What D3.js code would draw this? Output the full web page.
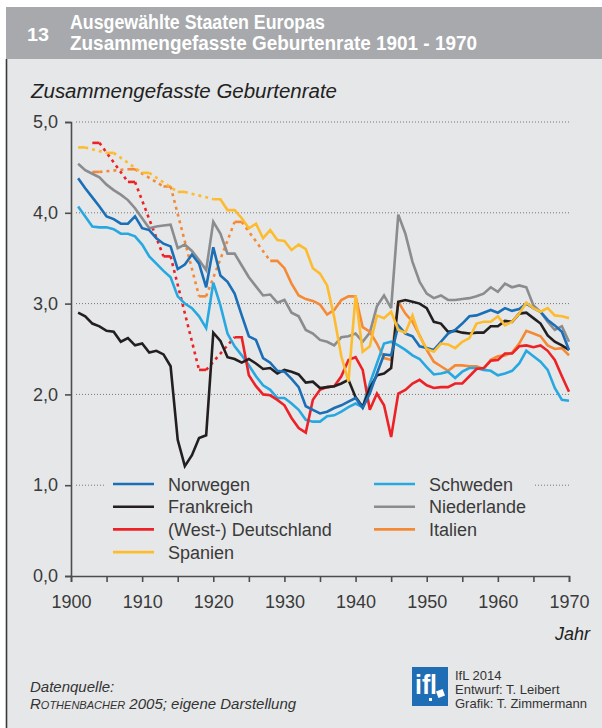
<!DOCTYPE html>
<html><head><meta charset="utf-8">
<script src="https://cdn.jsdelivr.net/npm/d3@7"></script>
<style>
body{margin:0;background:#fff}
svg{display:block}
text{font-family:"Liberation Sans",Arial,Helvetica,sans-serif}
</style>
</head><body>
<svg id="c" width="602" height="728"></svg>
<script>
// ---------- data ----------
const yTicks = [0, 1, 2, 3, 4, 5];
const xTicks = [1900, 1910, 1920, 1930, 1940, 1950, 1960, 1970];
const xMinorTicks = [1900,1905,1910,1915,1920,1925,1930,1935,1940,1945,1950,1955,1960,1965,1970];

const norwegenStart = 1901;
const norwegen = [
4.38,4.27,4.17,4.07,3.96,3.93,3.88,3.88,3.96,3.83,
3.81,3.72,3.66,3.63,3.38,3.43,3.54,3.44,3.18,3.62,
3.31,3.24,3.11,2.87,2.64,2.60,2.40,2.35,2.26,2.25,
2.17,2.08,1.87,1.83,1.79,1.81,1.85,1.88,1.92,1.96,
1.85,2.01,2.23,2.44,2.43,2.76,2.67,2.64,2.53,2.51,
2.49,2.58,2.67,2.71,2.78,2.86,2.87,2.90,2.93,2.90,
2.95,2.92,2.94,3.00,2.95,2.91,2.82,2.76,2.69,2.49];

const frankreichStart = 1901;
const frankreich = [
2.90,2.86,2.78,2.75,2.70,2.69,2.58,2.62,2.54,2.56,
2.46,2.48,2.44,2.31,1.50,1.21,1.33,1.52,1.55,2.68,
2.59,2.41,2.39,2.35,2.39,2.34,2.28,2.29,2.23,2.27,
2.25,2.22,2.13,2.14,2.07,2.08,2.09,2.12,2.16,1.97,
1.86,2.07,2.21,2.23,2.29,3.02,3.04,3.02,3.00,2.95,
2.80,2.78,2.69,2.70,2.68,2.67,2.68,2.68,2.75,2.75,
2.81,2.80,2.89,2.90,2.84,2.78,2.65,2.58,2.54,2.49];

const deutschlandStart = 1923;
const deutschland = [
2.63,2.63,2.21,2.09,2.00,1.99,1.94,1.88,
1.74,1.63,1.58,1.94,2.05,2.08,2.09,2.20,2.38,2.41,
2.27,1.83,2.01,1.88,1.53,2.01,2.05,2.12,2.16,2.10,
2.07,2.08,2.08,2.12,2.12,2.20,2.28,2.29,2.37,2.38,
2.45,2.45,2.53,2.54,2.52,2.54,2.48,2.38,2.20,2.03];
const deutschlandMarkYears = [1903, 1908, 1913, 1918];
const deutschlandMarkValues = [4.77, 4.34, 3.52, 2.27];

const spanienStart = 1920;
const spanien = [
4.15,
4.15,4.03,4.03,3.94,3.83,3.88,3.72,3.81,3.70,3.69,
3.59,3.65,3.60,3.39,3.33,3.20,2.85,2.42,2.14,3.09,
2.47,2.53,2.87,2.84,2.91,2.71,2.68,2.87,2.64,2.50,
2.47,2.56,2.55,2.51,2.58,2.62,2.78,2.80,2.80,2.86,
2.76,2.80,2.89,3.01,2.95,2.91,2.95,2.87,2.86,2.84];
const spanienMarkYears = [1901, 1905, 1910, 1915];
const spanienMarkValues = [4.72, 4.66, 4.44, 4.23];

const schwedenStart = 1901;
const schweden = [
4.07,3.96,3.85,3.84,3.84,3.82,3.77,3.77,3.74,3.65,
3.52,3.44,3.36,3.29,3.08,3.00,2.95,2.86,2.73,3.23,
2.98,2.67,2.53,2.43,2.32,2.20,2.10,2.05,1.96,1.96,
1.90,1.83,1.72,1.70,1.70,1.76,1.77,1.81,1.86,1.90,
1.86,2.12,2.34,2.56,2.58,2.54,2.49,2.43,2.39,2.30,
2.22,2.23,2.25,2.18,2.25,2.29,2.29,2.27,2.26,2.21,
2.23,2.26,2.34,2.48,2.42,2.36,2.27,2.07,1.94,1.93];

const niederlandeStart = 1901;
const niederlande = [
4.54,4.47,4.43,4.39,4.31,4.25,4.20,4.14,4.05,3.94,
3.83,3.85,3.86,3.87,3.61,3.65,3.58,3.48,3.37,3.90,
3.77,3.55,3.55,3.42,3.29,3.19,3.09,3.10,3.01,3.04,
2.90,2.86,2.71,2.67,2.60,2.58,2.54,2.63,2.64,2.67,
2.58,2.68,2.97,3.09,2.95,3.98,3.77,3.46,3.24,3.11,
3.06,3.09,3.04,3.04,3.05,3.06,3.08,3.11,3.18,3.13,
3.22,3.18,3.20,3.18,2.98,2.91,2.80,2.71,2.75,2.58];

const italienStart = 1928;
const italien = [
3.47,3.47,3.39,
3.22,3.09,3.05,3.03,2.99,2.88,2.93,3.04,3.08,3.08,
2.74,2.69,2.56,2.40,2.38,3.02,2.89,2.80,2.65,2.49,
2.36,2.31,2.26,2.32,2.32,2.31,2.31,2.28,2.38,2.42,
2.43,2.46,2.56,2.70,2.67,2.64,2.54,2.50,2.51,2.43];
const italienMarkYears = [1903, 1908, 1913, 1918, 1923];
const italienMarkValues = [4.45, 4.48, 4.29, 3.08, 3.90];

const legendLeft = ["Norwegen", "Frankreich", "(West-) Deutschland", "Spanien"];
const legendRight = ["Schweden", "Niederlande", "Italien"];

// ---------- drawing ----------
const COL = {
  Norwegen: "#1b6fb7", Frankreich: "#231f20", "(West-) Deutschland": "#ec2227",
  Spanien: "#fdbb2f", Schweden: "#28a8e0", Niederlande: "#8b8c8e", Italien: "#f58a36"
};

const svg = d3.select("#c");
const x = d3.scaleLinear().domain([1900, 1970]).range([71, 569]);
const y = d3.scaleLinear().domain([0, 5]).range([576, 122]);

// panel & header
svg.append("rect").attr("x", 6).attr("y", 7).attr("width", 596).attr("height", 721).attr("fill", "#e6e7e8");
svg.append("rect").attr("x", 6).attr("y", 7).attr("width", 596).attr("height", 52).attr("fill", "#a7a9ac");
svg.append("line").attr("x1", 6.5).attr("x2", 6.5).attr("y1", 59).attr("y2", 728).attr("stroke", "#3a3a3a").attr("stroke-width", 1.6);

svg.append("text").attr("x", 27).attr("y", 41).attr("fill", "#fff").attr("font-weight", "bold")
  .attr("font-size", 19).attr("textLength", 22).attr("lengthAdjust", "spacingAndGlyphs").text("13");
svg.append("text").attr("x", 70).attr("y", 29).attr("fill", "#fff").attr("font-weight", "bold")
  .attr("font-size", 20).attr("textLength", 255).attr("lengthAdjust", "spacingAndGlyphs").text("Ausgewählte Staaten Europas");
svg.append("text").attr("x", 70).attr("y", 50).attr("fill", "#fff").attr("font-weight", "bold")
  .attr("font-size", 20).attr("textLength", 407).attr("lengthAdjust", "spacingAndGlyphs").text("Zusammengefasste Geburtenrate 1901 - 1970");

svg.append("text").attr("x", 31).attr("y", 98).attr("fill", "#222").attr("font-style", "italic")
  .attr("font-size", 20).attr("textLength", 306).attr("lengthAdjust", "spacingAndGlyphs").text("Zusammengefasste Geburtenrate");

// gridlines
svg.append("g").selectAll("line").data(yTicks.filter(d => d > 0)).join("line")
  .attr("x1", 76).attr("x2", 570).attr("y1", d => y(d)).attr("y2", d => y(d))
  .attr("stroke", "#777").attr("stroke-width", 1).attr("stroke-dasharray", "1,2");

// legend background (covers gridline)
svg.append("rect").attr("x", 106).attr("y", 470).attr("width", 428).attr("height", 95).attr("fill", "#e6e7e8");

// axes
const yAxis = d3.axisLeft(y).tickValues(yTicks).tickSize(6).tickPadding(7)
  .tickFormat(d => d3.format(".1f")(d).replace(".", ","));
const gy = svg.append("g").attr("transform", "translate(71,0)").call(yAxis);
const xAxis = d3.axisBottom(x).tickValues(xMinorTicks).tickSize(6).tickPadding(13)
  .tickFormat(d => xTicks.includes(d) ? String(d) : "");
const gx = svg.append("g").attr("transform", "translate(0,576)").call(xAxis);
[gx, gy].forEach(g => {
  g.select(".domain").attr("stroke", "#4d4d4d").attr("stroke-width", 1.6);
  g.selectAll(".tick line").attr("stroke", "#4d4d4d").attr("stroke-width", 1.6);
  g.selectAll(".tick text").attr("fill", "#3a3a3a").attr("font-size", 18)
    .attr("font-family", "'Liberation Sans',Arial,sans-serif");
});
svg.append("text").attr("x", 590).attr("y", 640).attr("text-anchor", "end").attr("font-style", "italic")
  .attr("font-size", 18).attr("fill", "#222").text("Jahr");

// lines
const lineGen = d3.line().x(d => x(d[0])).y(d => y(d[1]));
function series(start, vals) { return vals.map((v, i) => [start + i, v]); }

function drawMarks(years, vals, firstSolid, color) {
  const g = svg.append("g");
  const pts = years.map((yr, i) => [yr, vals[i]]);
  // dotted connectors
  for (let i = 0; i < pts.length; i++) {
    const a = [pts[i][0] + 1, pts[i][1]];
    const b = i + 1 < pts.length ? pts[i + 1] : firstSolid;
    g.append("path").attr("d", lineGen([a, b])).attr("fill", "none").attr("stroke", color)
      .attr("stroke-width", 2.6).attr("stroke-dasharray", "3,4");
  }
  // short solid marks
  pts.forEach(p => {
    g.append("path").attr("d", lineGen([p, [p[0] + 1, p[1]]])).attr("fill", "none").attr("stroke", color)
      .attr("stroke-width", 2.6).attr("stroke-linecap", "butt");
  });
}

const order = [
  ["Niederlande", niederlandeStart, niederlande],
  ["Italien", italienStart, italien],
  ["Schweden", schwedenStart, schweden],
  ["(West-) Deutschland", deutschlandStart, deutschland],
  ["Frankreich", frankreichStart, frankreich],
  ["Norwegen", norwegenStart, norwegen],
  ["Spanien", spanienStart, spanien]
];

drawMarks(italienMarkYears, italienMarkValues, [italienStart, italien[0]], COL.Italien);
drawMarks(deutschlandMarkYears, deutschlandMarkValues, [deutschlandStart, deutschland[0]], COL["(West-) Deutschland"]);
drawMarks(spanienMarkYears, spanienMarkValues, [spanienStart, spanien[0]], COL.Spanien);

order.forEach(([name, start, vals]) => {
  svg.append("path").datum(series(start, vals)).attr("d", lineGen).attr("fill", "none")
    .attr("stroke", COL[name]).attr("stroke-width", 2.6).attr("stroke-linejoin", "miter").attr("stroke-miterlimit", 3);
});

// legend
function legendCol(items, lx, tx) {
  items.forEach((name, i) => {
    const cy = 484 + i * 22.7;
    svg.append("line").attr("x1", lx).attr("x2", lx + 41).attr("y1", cy).attr("y2", cy)
      .attr("stroke", COL[name]).attr("stroke-width", 2.6);
    svg.append("text").attr("x", tx).attr("y", cy + 6.5).attr("font-size", 18).attr("fill", "#3a3a3a").text(name);
  });
}
legendCol(legendLeft, 113, 168);
legendCol(legendRight, 374, 429);

// footer
svg.append("text").attr("x", 30).attr("y", 692).attr("font-size", 15).attr("font-style", "italic").attr("fill", "#333").text("Datenquelle:");
const src = svg.append("text").attr("x", 30).attr("y", 709).attr("font-size", 15).attr("font-style", "italic").attr("fill", "#333");
src.append("tspan").text("R");
src.append("tspan").attr("font-size", 11).text("OTHENBACHER");
src.append("tspan").text(" 2005; eigene Darstellung");

// logo
svg.append("rect").attr("x", 412).attr("y", 667).attr("width", 36).attr("height", 39).attr("fill", "#1f6db4");
svg.append("text").attr("x", 415).attr("y", 694).attr("font-size", 27).attr("font-weight", "bold").attr("fill", "#fff")
  .attr("textLength", 22).attr("lengthAdjust", "spacingAndGlyphs").text("ifl");
svg.append("rect").attr("x", 437).attr("y", 690).attr("width", 7).attr("height", 7).attr("fill", "#fff")
  .attr("transform", "rotate(-20,440.5,693.5)");
svg.append("rect").attr("x", 429).attr("y", 698).attr("width", 3).attr("height", 3).attr("fill", "#fff");

const credits = ["IfL 2014", "Entwurf: T. Leibert", "Grafik: T. Zimmermann"];
svg.append("g").selectAll("text").data(credits).join("text")
  .attr("x", 455).attr("y", (d, i) => 680 + i * 14).attr("font-size", 13).attr("fill", "#333").text(d => d);
</script>
</body></html>
